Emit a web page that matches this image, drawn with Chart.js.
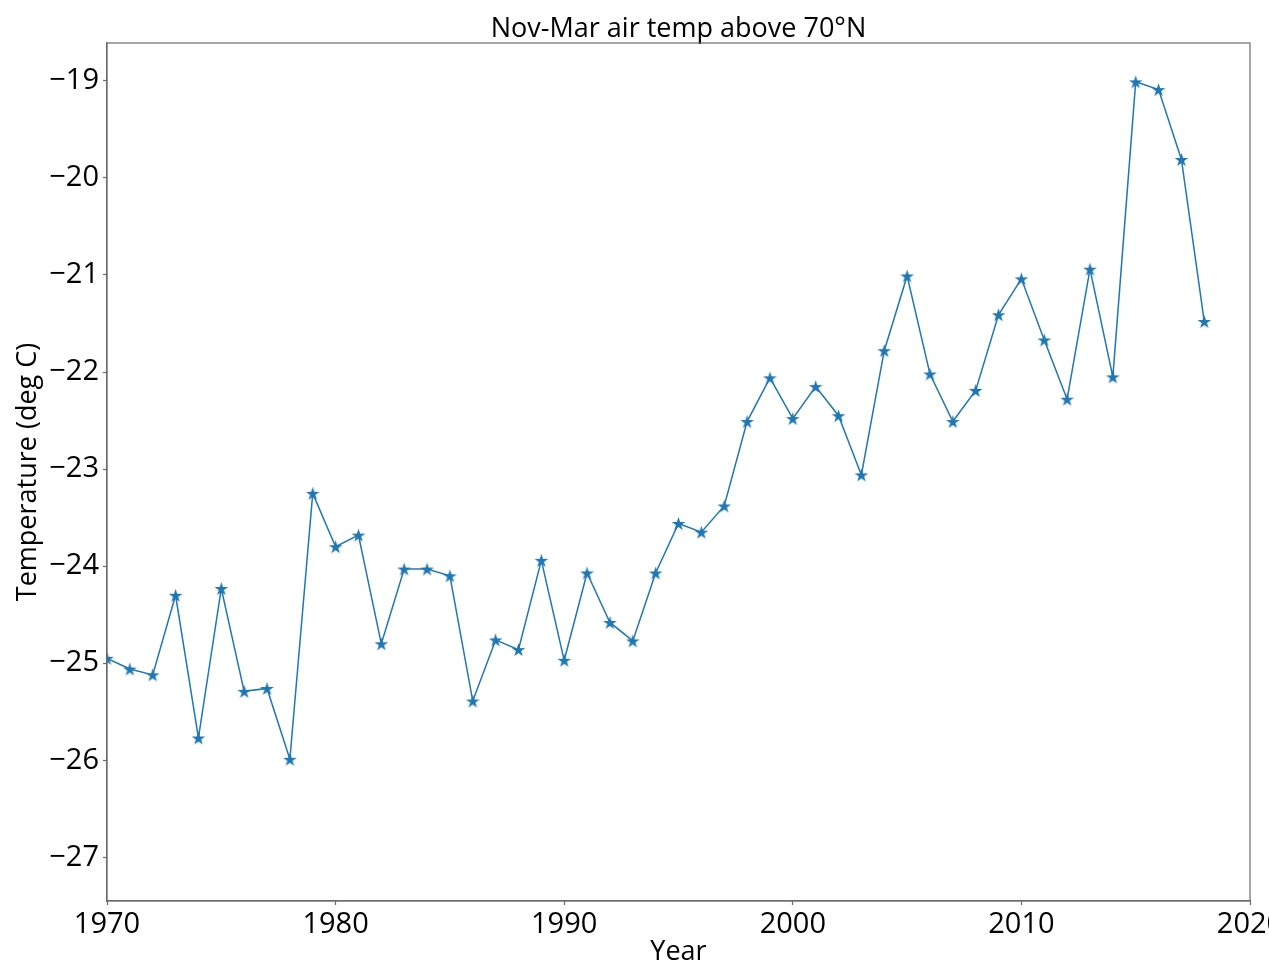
<!DOCTYPE html>
<html>
<head>
<meta charset="utf-8">
<script src="https://cdn.jsdelivr.net/npm/chart.js@4"></script>
<style>
  html, body { margin:0; padding:0; background:#fff; overflow:hidden; }
  #myChart { display:block; }
</style>
</head>
<body>
<canvas id="myChart" width="1269" height="966"></canvas>
<script>
// data
const years = [1970,1971,1972,1973,1974,1975,1976,1977,1978,1979,
               1980,1981,1982,1983,1984,1985,1986,1987,1988,1989,
               1990,1991,1992,1993,1994,1995,1996,1997,1998,1999,
               2000,2001,2002,2003,2004,2005,2006,2007,2008,2009,
               2010,2011,2012,2013,2014,2015,2016,2017,2018]
const temps = [-24.95,-25.06,-25.12,-24.30,-25.77,-24.23,-25.29,-25.26,-25.99,-23.25,
               -23.80,-23.68,-24.80,-24.03,-24.03,-24.10,-25.39,-24.76,-24.86,-23.94,
               -24.97,-24.07,-24.58,-24.77,-24.07,-23.56,-23.65,-23.38,-22.51,-22.06,
               -22.48,-22.15,-22.45,-23.06,-21.78,-21.01,-22.02,-22.51,-22.19,-21.41,
               -21.04,-21.67,-22.28,-20.94,-22.05,-19.01,-19.09,-19.81,-21.48]
const xTicks = [1970,1980,1990,2000,2010,2020]
const yTicks = [-27,-26,-25,-24,-23,-22,-21,-20,-19]
const xRange = [1970, 2020]
const yRange = [-27.45, -18.61]

const blue = '#1f77b4'
const frameColor = '#6b6b6b'

// filled five point star for the markers
const makeStar = (r) => {
    const c = document.createElement('canvas')
    const s = Math.ceil(r*2+2)
    c.width = s; c.height = s
    const g = c.getContext('2d')
    g.beginPath()
    for (let i = 0; i < 10; i++) {
        const rad = i % 2 === 0 ? r : r*0.382
        const a = -Math.PI/2 + i*Math.PI/5
        const px = s/2 + rad*Math.cos(a), py = s/2 + rad*Math.sin(a) + r*0.09
        i === 0 ? g.moveTo(px, py) : g.lineTo(px, py)
    }
    g.closePath()
    g.fillStyle = blue
    g.fill()
    return c
}
const star = makeStar(7.2)

const minus = v => v < 0 ? '\u2212' + Math.abs(v) : String(v)

// draws top/right sides of the axes box
const framePlugin = {
    id:'frame',
    afterDraw(chart){
        const {ctx, chartArea:a} = chart
        ctx.save()
        ctx.strokeStyle = frameColor
        ctx.lineWidth = 1.2
        ctx.strokeRect(a.left, a.top, a.right-a.left, a.bottom-a.top)
        ctx.restore()
    }
}

const ctx = document.getElementById('myChart').getContext('2d')
const chart = new Chart(ctx, {
    type:'line',
    data:{
        datasets:[{
            data: years.map((y, i) => ({x:y, y:temps[i]})),
            borderColor: blue,
            borderWidth: 1.5,
            pointStyle: star,
            pointRadius: 7,
            pointHoverRadius: 7,
            tension: 0,
            fill: false
        }]
    },
    options:{
        responsive:false,
        animation:false,
        devicePixelRatio:1,
        layout:{ padding:{ left:0, right:19, top:0, bottom:0 } },
        plugins:{
            legend:{ display:false },
            tooltip:{ enabled:false },
            title:{
                display:true,
                text:'Nov-Mar air temp above 70°N',
                color:'#000',
                fullSize:false,
                font:{ family:'"Open Sans"', size:27, weight:'normal', lineHeight:0.9 },
                padding:{ top:17, bottom:1.7 }
            }
        },
        scales:{
            x:{
                type:'linear',
                min:xRange[0], max:xRange[1],
                afterBuildTicks: s => { s.ticks = xTicks.map(v => ({value:v})) },
                afterFit: s => { s.height = 65; s.paddingRight = 0; s.paddingLeft = 0 },
                grid:{ display:true, drawOnChartArea:false, drawTicks:true, tickLength:4, tickColor:frameColor, tickWidth:1.2 },
                border:{ display:true, color:frameColor, width:1.2 },
                ticks:{
                    color:'#000', maxRotation:0, autoSkip:false, padding:2,
                    font:{ family:'"Open Sans"', size:29 },
                    callback: v => String(v)
                },
                title:{
                    display:true, text:'Year', color:'#000',
                    font:{ family:'"Open Sans"', size:27, lineHeight:1.0 },
                    padding:{ top:0, bottom:0.5 }
                }
            },
            y:{
                type:'linear',
                min:yRange[0], max:yRange[1],
                afterBuildTicks: s => { s.ticks = yTicks.map(v => ({value:v})) },
                afterFit: s => { s.width = 107 },
                grid:{ display:true, drawOnChartArea:false, drawTicks:true, tickLength:4, tickColor:frameColor, tickWidth:1.2 },
                border:{ display:true, color:frameColor, width:1.2 },
                ticks:{
                    color:'#000', padding:4,
                    font:{ family:'"Open Sans"', size:29 },
                    callback: v => minus(v)
                },
                title:{
                    display:true, text:'Temperature (deg C)', color:'#000',
                    font:{ family:'"Open Sans"', size:27 },
                    padding:{ top:12, bottom:0 }
                }
            }
        }
    },
    plugins:[framePlugin]
})
</script>
</body>
</html>
